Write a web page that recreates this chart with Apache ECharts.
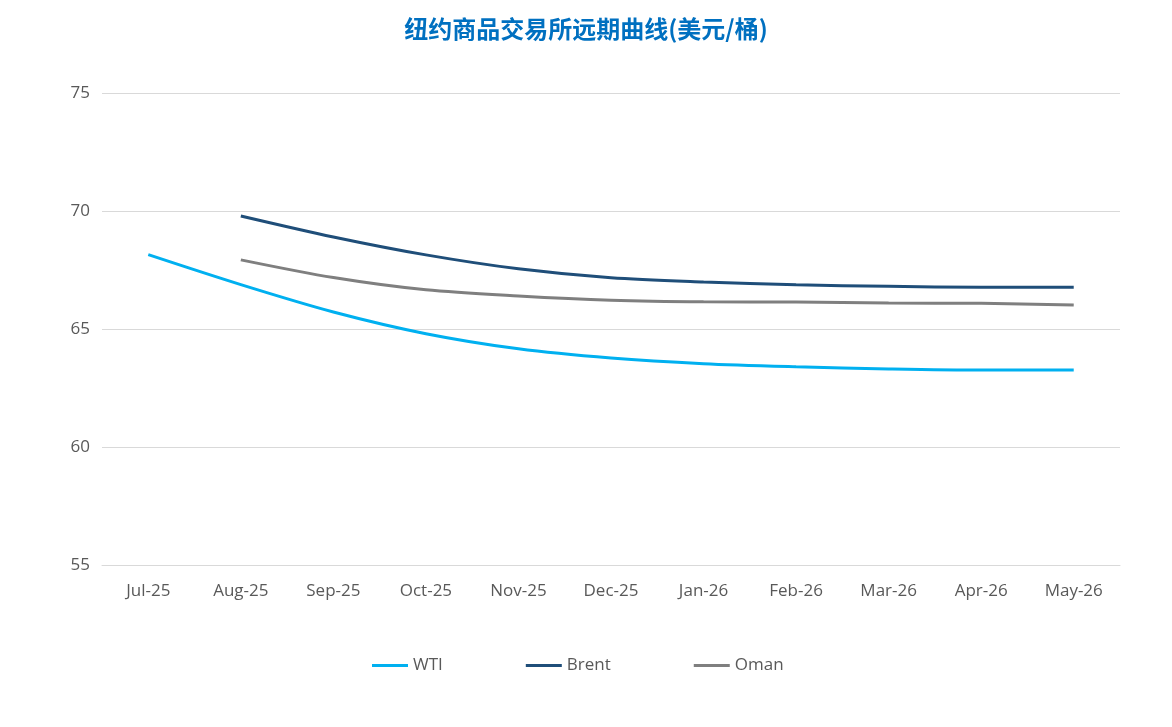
<!DOCTYPE html>
<html>
<head>
<meta charset="utf-8">
<script src="https://cdn.jsdelivr.net/npm/echarts@6/dist/echarts.min.js"></script>
<style>html,body{margin:0;padding:0;background:#fff}#c{width:1172px;height:727px}</style>
</head>
<body>
<div id="c"></div>
<script>
var categories = ['Jul-25','Aug-25','Sep-25','Oct-25','Nov-25','Dec-25','Jan-26','Feb-26','Mar-26','Apr-26','May-26'];
var wti   = [68.15, 66.88, 65.72, 64.80, 64.16, 63.77, 63.53, 63.40, 63.31, 63.26, 63.26];
var brent = [null, 69.79, 68.90, 68.14, 67.55, 67.17, 66.99, 66.87, 66.81, 66.77, 66.77];
var oman  = [null, 67.93, 67.18, 66.66, 66.40, 66.22, 66.15, 66.14, 66.10, 66.09, 66.02];
var yTicks = {min: 55, max: 75, interval: 5};

var chart = echarts.init(document.getElementById('c'), null, {renderer: 'canvas'});
var font = '"Open Sans", "Noto Sans", sans-serif';
function line(name, data, color) {
  return {
    name: name, type: 'line', data: data, smooth: 0.3, showSymbol: false, symbol: 'none',
    lineStyle: {color: color, width: 3}, itemStyle: {color: color}, connectNulls: false
  };
}
chart.setOption({
  animation: false,
  backgroundColor: '#fff',
  title: {
    text: '纽约商品交易所远期曲线(美元/桶)', left: 'center', top: 12,
    textStyle: {color: '#0070C0', fontSize: 24, fontWeight: 'bold', fontFamily: '"Noto Sans CJK SC", sans-serif'}
  },
  legend: {
    bottom: 48, left: 367, itemWidth: 36, itemHeight: 3, itemGap: 83,
    icon: 'rect',
    textStyle: {color: '#595959', fontSize: 17, fontFamily: font},
    data: ['WTI', 'Brent', 'Oman']
  },
  grid: {left: 102, right: 52, top: 93, bottom: 162, containLabel: false},
  xAxis: {
    type: 'category', data: categories, boundaryGap: true,
    axisLine: {show: true, lineStyle: {color: '#D9D9D9'}},
    axisTick: {show: false},
    axisLabel: {color: '#595959', fontSize: 17, fontFamily: font, margin: 18, interval: 0}
  },
  yAxis: {
    type: 'value', min: yTicks.min, max: yTicks.max, interval: yTicks.interval,
    axisLine: {show: false}, axisTick: {show: false},
    splitLine: {lineStyle: {color: '#D9D9D9', width: 1}},
    axisLabel: {color: '#595959', fontSize: 17, fontFamily: font, margin: 12}
  },
  series: [
    line('WTI', wti, '#00B0F0'),
    line('Brent', brent, '#1F4E79'),
    line('Oman', oman, '#7F7F7F')
  ]
});
</script>
</body>
</html>
